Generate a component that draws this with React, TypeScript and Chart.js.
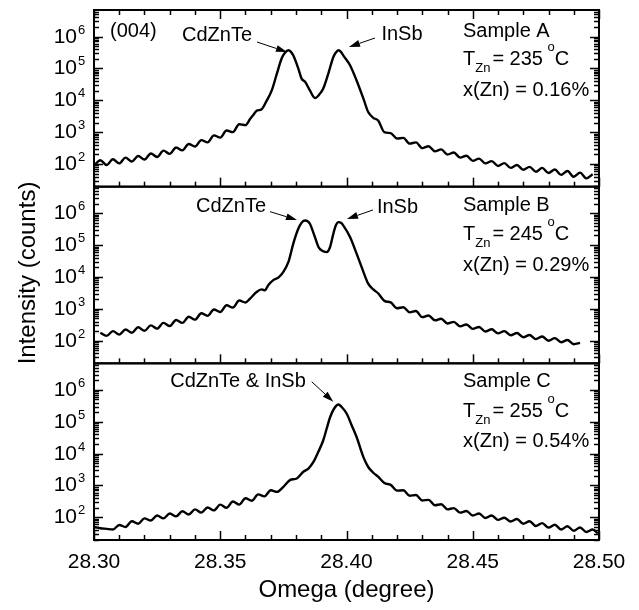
import React, { useEffect, useRef } from 'react';
import { Chart, registerables } from 'chart.js';

Chart.register(...registerables);

const FONT = '"Liberation Sans", Arial, Helvetica, sans-serif';

// ---- axis data ----
const X_MIN = 28.3;
const X_MAX = 28.5;
const X_TICK_VALUES = [28.3, 28.35, 28.4, 28.45, 28.5];
const X_TICK_LABELS = ['28.30', '28.35', '28.40', '28.45', '28.50'];
const Y_MIN = 19.5;
const Y_MAX = 6.8e6;
const Y_EXPONENTS = [2, 3, 4, 5, 6];

// ---- panel texts ----
const SAMPLE_NAMES = ['Sample A', 'Sample B', 'Sample C'];
const ZN_TEMPS = ['235', '245', '255'];
const ZN_FRACTIONS = ['0.16%', '0.29%', '0.54%'];

// ---- series: Omega (degree) and log10(Intensity) ----
const A_X = [28.3, 28.3025, 28.305, 28.3075, 28.31, 28.3125, 28.315, 28.3175, 28.32, 28.3225, 28.325, 28.3275, 28.33, 28.3325, 28.335, 28.3375, 28.34, 28.3425, 28.345, 28.3475, 28.35, 28.3525, 28.355, 28.3575, 28.36,
  28.3618, 28.3632, 28.3644, 28.3664, 28.3684, 28.3704, 28.3724, 28.3743, 28.3757, 28.377, 28.378, 28.3789, 28.3809, 28.3822, 28.3836, 28.3855, 28.3875, 28.3895, 28.3908, 28.3928, 28.3948, 28.3958, 28.3968, 28.3978, 28.3987, 28.4014, 28.404, 28.4067, 28.4086, 28.4106, 28.4126,
  28.415, 28.4175, 28.42, 28.4225, 28.425, 28.4275, 28.43, 28.4325, 28.435, 28.4375, 28.44, 28.4425, 28.445, 28.4475, 28.45, 28.4525, 28.455, 28.4575, 28.46, 28.4625, 28.465, 28.4675, 28.47, 28.4725, 28.475, 28.4775, 28.48, 28.4825, 28.485, 28.4875, 28.49, 28.4925, 28.495, 28.4975];
const A_LOG = [1.95, 2.12, 1.97, 2.15, 2.02, 2.2, 2.08, 2.25, 2.14, 2.33, 2.22, 2.42, 2.32, 2.52, 2.43, 2.63, 2.55, 2.75, 2.68, 2.9, 2.83, 3.05, 3.0, 3.25, 3.22,
  3.41, 3.55, 3.67, 3.72, 3.99, 4.31, 4.83, 5.31, 5.5, 5.57, 5.52, 5.41, 5.0, 4.68, 4.58, 4.31, 4.07, 4.21, 4.37, 4.84, 5.36, 5.5, 5.57, 5.52, 5.41, 5.1, 4.62, 4.05, 3.63, 3.45, 3.36,
  3.0, 2.97, 2.8, 2.82, 2.64, 2.68, 2.5, 2.56, 2.4, 2.46, 2.3, 2.36, 2.2, 2.26, 2.1, 2.17, 2.02, 2.09, 1.94, 2.03, 1.88, 1.97, 1.82, 1.91, 1.76, 1.88, 1.72, 1.83, 1.66, 1.78, 1.6, 1.73, 1.55, 1.68];

const B_X = [28.3025, 28.305, 28.3075, 28.31, 28.3125, 28.315, 28.3175, 28.32, 28.3225, 28.325, 28.3275, 28.33, 28.3325, 28.335, 28.3375, 28.34, 28.3425, 28.345, 28.3475, 28.35, 28.3525, 28.355, 28.3575, 28.36,
  28.3618, 28.3644, 28.3664, 28.3677, 28.369, 28.371, 28.373, 28.375, 28.377, 28.3789, 28.3809, 28.3823, 28.3836, 28.3846, 28.3855, 28.3875, 28.3889, 28.3902, 28.3921, 28.3935, 28.3948, 28.3958, 28.3968, 28.3978, 28.3987, 28.4014, 28.404, 28.4067, 28.4086, 28.4106, 28.4126,
  28.415, 28.4175, 28.42, 28.4225, 28.425, 28.4275, 28.43, 28.4325, 28.435, 28.4375, 28.44, 28.4425, 28.445, 28.4475, 28.45, 28.4525, 28.455, 28.4575, 28.46, 28.4625, 28.465, 28.4675, 28.47, 28.4725, 28.475, 28.4775, 28.48, 28.4825, 28.485, 28.4875, 28.49, 28.4925];
const B_LOG = [2.25, 2.15, 2.3, 2.19, 2.35, 2.25, 2.42, 2.31, 2.48, 2.38, 2.56, 2.46, 2.65, 2.56, 2.75, 2.66, 2.86, 2.78, 2.98, 2.9, 3.11, 3.04, 3.26, 3.2,
  3.32, 3.53, 3.61, 3.58, 3.74, 3.9, 3.98, 4.16, 4.47, 5.04, 5.51, 5.71, 5.77, 5.75, 5.67, 5.25, 4.94, 4.83, 4.78, 4.94, 5.36, 5.62, 5.72, 5.7, 5.62, 5.25, 4.73, 4.16, 3.79, 3.61, 3.48,
  3.25, 3.2, 3.02, 3.05, 2.89, 2.93, 2.74, 2.79, 2.64, 2.69, 2.54, 2.59, 2.45, 2.51, 2.37, 2.43, 2.29, 2.36, 2.23, 2.3, 2.17, 2.24, 2.11, 2.18, 2.05, 2.13, 2.0, 2.08, 1.95, 2.02, 1.89, 1.93];

const C_X = [28.3, 28.3025, 28.305, 28.3075, 28.31, 28.3125, 28.315, 28.3175, 28.32, 28.3225, 28.325, 28.3275, 28.33, 28.3325, 28.335, 28.3375, 28.34, 28.3425, 28.345, 28.3475, 28.35, 28.3525, 28.355, 28.3575, 28.36, 28.3625, 28.365, 28.3675, 28.37, 28.3725, 28.375,
  28.3776, 28.3803, 28.3829, 28.3849, 28.3869, 28.3888, 28.3908, 28.3922, 28.3935, 28.395, 28.3968, 28.398, 28.4001, 28.402, 28.404, 28.4067, 28.4086, 28.4106, 28.4126,
  28.415, 28.4175, 28.42, 28.4225, 28.425, 28.4275, 28.43, 28.4325, 28.435, 28.4375, 28.44, 28.4425, 28.445, 28.4475, 28.45, 28.4525, 28.455, 28.4575, 28.46, 28.4625, 28.465, 28.4675, 28.47, 28.4725, 28.475, 28.4775, 28.48, 28.4825, 28.485, 28.4875, 28.49, 28.4925, 28.495, 28.4975, 28.4995];
const C_LOG = [1.7, 1.66, 1.64, 1.62, 1.76, 1.7, 1.88, 1.8, 1.97, 1.9, 2.06, 1.97, 2.12, 2.03, 2.19, 2.09, 2.25, 2.15, 2.31, 2.22, 2.4, 2.3, 2.5, 2.4, 2.6, 2.52, 2.72, 2.66, 2.85, 2.8, 2.96,
  3.17, 3.22, 3.43, 3.53, 3.74, 4.05, 4.42, 4.8, 5.14, 5.4, 5.54, 5.47, 5.25, 4.9, 4.52, 3.89, 3.58, 3.4, 3.27,
  3.08, 3.02, 2.84, 2.85, 2.68, 2.7, 2.53, 2.55, 2.38, 2.41, 2.25, 2.29, 2.15, 2.2, 2.06, 2.12, 1.98, 2.06, 1.92, 1.99, 1.87, 1.95, 1.8, 1.88, 1.73, 1.82, 1.68, 1.77, 1.62, 1.72, 1.58, 1.68, 1.54, 1.62, 1.5];

const PANEL_IDS = ['yA', 'yB', 'yC'];

function toPoints(xs: number[], logs: number[]) {
  return xs.map((x, i) => ({ x, y: Math.pow(10, logs[i]) }));
}

function line(ctx: CanvasRenderingContext2D, x1: number, y1: number, x2: number, y2: number) {
  ctx.beginPath();
  ctx.moveTo(x1, y1);
  ctx.lineTo(x2, y2);
  ctx.stroke();
}

function arrow(ctx: CanvasRenderingContext2D, x1: number, y1: number, x2: number, y2: number) {
  const ang = Math.atan2(y2 - y1, x2 - x1);
  const head = 11;
  const half = 3.5;
  const bx = x2 - head * Math.cos(ang);
  const by = y2 - head * Math.sin(ang);
  ctx.lineWidth = 1;
  line(ctx, x1, y1, bx, by);
  ctx.beginPath();
  ctx.moveTo(x2, y2);
  ctx.lineTo(bx + half * Math.sin(ang), by - half * Math.cos(ang));
  ctx.lineTo(bx - half * Math.sin(ang), by + half * Math.cos(ang));
  ctx.closePath();
  ctx.fill();
}

function drawTzn(ctx: CanvasRenderingContext2D, x: number, y: number, temp: string) {
  ctx.textAlign = 'left';
  ctx.font = `20px ${FONT}`;
  ctx.fillText('T', x, y);
  let cx = x + ctx.measureText('T').width;
  ctx.font = `13px ${FONT}`;
  ctx.fillText('Zn', cx, y + 7);
  cx += ctx.measureText('Zn').width + 2;
  ctx.font = `20px ${FONT}`;
  const s = `= ${temp} `;
  ctx.fillText(s, cx, y);
  cx += ctx.measureText(s).width - 1;
  ctx.font = `13px ${FONT}`;
  ctx.fillText('o', cx, y - 14);
  cx += ctx.measureText('o').width;
  ctx.font = `20px ${FONT}`;
  ctx.fillText('C', cx, y);
}

const decorPlugin = {
  id: 'xrdDecor',
  afterDraw(chart: any) {
    const ctx: CanvasRenderingContext2D = chart.ctx;
    const area = chart.chartArea;
    const L = area.left;
    const R = area.right;
    const xs = chart.scales.x;
    ctx.save();
    ctx.strokeStyle = '#000';
    ctx.fillStyle = '#000';
    ctx.textBaseline = 'alphabetic';

    PANEL_IDS.forEach((id, p) => {
      const ys = chart.scales[id];
      const T = ys.top;
      const B = ys.bottom;
      // y ticks (log major + minor), inside on both sides
      ctx.lineWidth = 1.5;
      for (let e = 1; e <= 6; e++) {
        for (let m = 1; m <= 9; m++) {
          const v = m * Math.pow(10, e);
          if (v < Y_MIN || v > Y_MAX) continue;
          const py = Math.round(ys.getPixelForValue(v)) + 0.5;
          const len = m === 1 ? 9 : 5;
          line(ctx, L, py, L + len, py);
          line(ctx, R, py, R - len, py);
        }
      }
      // x ticks
      for (let i = 0; i <= 20; i++) {
        const v = X_MIN + i * 0.01;
        const px = Math.round(xs.getPixelForValue(v)) + 0.5;
        const len = i % 5 === 0 ? 9 : 5;
        line(ctx, px, B, px, B - len);
        if (p === 0) line(ctx, px, T, px, T + len);
      }
      // frame
      ctx.lineWidth = 2;
      ctx.strokeRect(L, T, R - L, B - T);
      // y labels
      Y_EXPONENTS.forEach((e) => {
        const py = ys.getPixelForValue(Math.pow(10, e));
        ctx.font = `21px ${FONT}`;
        ctx.textAlign = 'right';
        ctx.fillText('10', L - 17, py + 6);
        ctx.font = `13px ${FONT}`;
        ctx.textAlign = 'left';
        ctx.fillText(String(e), L - 16, py - 3);
      });
    });

    // sample information
    const infoOffsets = [[27, 55, 86], [24.5, 53.5, 84], [23.5, 53.5, 83.5]];
    PANEL_IDS.forEach((id, p) => {
      const T = chart.scales[id].top;
      const x0 = L + 369;
      const off = infoOffsets[p];
      ctx.font = `20px ${FONT}`;
      ctx.textAlign = 'left';
      ctx.fillText(SAMPLE_NAMES[p], x0, T + off[0]);
      drawTzn(ctx, x0, T + off[1], ZN_TEMPS[p]);
      ctx.font = `20px ${FONT}`;
      ctx.textAlign = 'left';
      ctx.fillText(`x(Zn) = ${ZN_FRACTIONS[p]}`, x0, T + off[2]);
    });

    // peak annotations
    const tA = chart.scales.yA.top;
    const tB = chart.scales.yB.top;
    const tC = chart.scales.yC.top;
    ctx.font = `20px ${FONT}`;
    ctx.textAlign = 'left';
    ctx.fillText('(004)', L + 16, tA + 27);
    ctx.textAlign = 'center';
    ctx.fillText('CdZnTe', L + 123, tA + 31);
    ctx.fillText('InSb', L + 308, tA + 30);
    arrow(ctx, L + 163, tA + 32, L + 193, tA + 42);
    arrow(ctx, L + 281, tA + 28, L + 255, tA + 37);

    ctx.fillText('CdZnTe', L + 137, tB + 25);
    ctx.fillText('InSb', L + 303.5, tB + 26.5);
    arrow(ctx, L + 176, tB + 25, L + 203, tB + 33.3);
    arrow(ctx, L + 279, tB + 23.3, L + 253, tB + 32.3);

    ctx.fillText('CdZnTe & InSb', L + 144, tC + 24);
    arrow(ctx, L + 217.7, tC + 18.4, L + 239.3, tC + 38.4);

    // x tick labels
    ctx.font = `21px ${FONT}`;
    ctx.textAlign = 'center';
    X_TICK_VALUES.forEach((v, i) => {
      ctx.fillText(X_TICK_LABELS[i], xs.getPixelForValue(v), area.bottom + 28);
    });

    // axis titles
    ctx.font = `24px ${FONT}`;
    ctx.fillText('Omega (degree)', (L + R) / 2, area.bottom + 57);
    ctx.save();
    ctx.translate(35, (area.top + area.bottom) / 2 - 2);
    ctx.rotate(-Math.PI / 2);
    ctx.textAlign = 'center';
    ctx.fillText('Intensity (counts)', 0, 0);
    ctx.restore();

    ctx.restore();
  },
};

export default function App() {
  const canvasRef = useRef<HTMLCanvasElement | null>(null);

  useEffect(() => {
    if (!canvasRef.current) return;
    const lineStyle = {
      borderColor: '#000',
      borderWidth: 2.4,
      pointRadius: 0,
      fill: false,
      cubicInterpolationMode: 'monotone' as const,
    };
    const yScale = (weight: number) => ({
      type: 'logarithmic' as const,
      position: 'left' as const,
      stack: 'panels',
      stackWeight: 1,
      weight,
      min: Y_MIN,
      max: Y_MAX,
      display: false,
    });
    const chart = new Chart(canvasRef.current, {
      type: 'line',
      data: {
        datasets: [
          { label: 'Sample A', data: toPoints(A_X, A_LOG), yAxisID: 'yA', ...lineStyle },
          { label: 'Sample B', data: toPoints(B_X, B_LOG), yAxisID: 'yB', ...lineStyle },
          { label: 'Sample C', data: toPoints(C_X, C_LOG), yAxisID: 'yC', ...lineStyle },
        ],
      },
      options: {
        responsive: false,
        animation: false,
        events: [],
        layout: { padding: { left: 94, right: 40, top: 10, bottom: 70 } },
        plugins: { legend: { display: false }, tooltip: { enabled: false } },
        scales: {
          x: { type: 'linear', min: X_MIN, max: X_MAX, display: false },
          yA: yScale(3),
          yB: yScale(2),
          yC: yScale(1),
        },
      },
      plugins: [decorPlugin],
    });
    return () => chart.destroy();
  }, []);

  return (
    <div style={{ position: 'fixed', left: 0, top: 0, width: 639, height: 610, background: '#fff' }}>
      <canvas ref={canvasRef} width={639} height={610} style={{ display: 'block' }} />
    </div>
  );
}
